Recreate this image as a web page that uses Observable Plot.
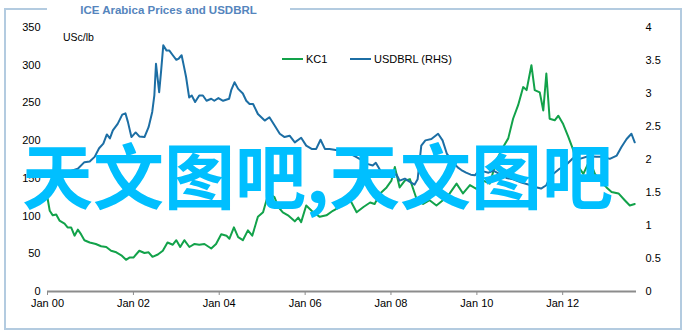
<!DOCTYPE html>
<html>
<head>
<meta charset="utf-8">
<script src="https://cdn.jsdelivr.net/npm/d3@7"></script>
<script src="https://cdn.jsdelivr.net/npm/@observablehq/plot@0.6"></script>
<style>
  html, body { margin: 0; padding: 0; background: #fff; }
  #wrap { position: relative; width: 683px; height: 333px; overflow: hidden; font-family: "Liberation Sans", Arial, sans-serif; }
  #frame { position: absolute; left: 4px; top: 8px; width: 674px; height: 318px; border: 2px solid #b3cbe0; box-sizing: content-box; }
  #title { position: absolute; left: 47px; top: 2px; width: 243px; height: 16px; background: #fff; text-align: center; font-weight: bold; font-size: 11.5px; line-height: 16px; color: #5585bd; }
  #unit { position: absolute; left: 63px; top: 31px; font-size: 10.5px; color: #000; }
  .leg { position: absolute; top: 52px; font-size: 11px; color: #000; line-height: 14px; }
  .sw { position: absolute; top: 58px; height: 2px; width: 21px; }
  #plot { position: absolute; left: 0; top: 0; }
  #wm { position: absolute; left: 22px; top: 137px; font-family: "Noto Sans CJK SC", sans-serif; font-weight: bold; font-size: 71px; line-height: 71px; color: #00bfff; white-space: nowrap; }
</style>
</head>
<body>
<div id="wrap">
  <div id="frame"></div>
  <div id="title">ICE Arabica Prices and USDBRL</div>
  <div id="plot"></div>
  <div id="unit">USc/lb</div>
  <div class="sw" style="left:282px;background:#12a24a"></div>
  <div class="leg" style="left:306px">KC1</div>
  <div class="sw" style="left:350px;background:#1c6ea4"></div>
  <div class="leg" style="left:374px">USDBRL (RHS)</div>
  <div id="wm">天文图吧,天文图吧</div>
</div>
<script>
const leftTicks = [0, 50, 100, 150, 200, 250, 300, 350];
const rightTicks = [0, 0.5, 1, 1.5, 2, 2.5, 3, 3.5, 4];
const xTickLabels = ["2000-01-01", "2002-01-01", "2004-01-01", "2006-01-01", "2008-01-01", "2010-01-01", "2012-01-01"];

const kcDates = ["2000-01-01","2000-01-20","2000-02-15","2000-03-15","2000-04-12","2000-05-25","2000-06-20","2000-07-20","2000-08-18","2000-09-15","2000-10-12","2000-11-10","2000-12-25","2001-02-15","2001-04-01","2001-05-15","2001-06-25","2001-08-08","2001-09-20","2001-10-30","2001-11-28","2002-01-01","2002-02-20","2002-04-05","2002-05-10","2002-06-12","2002-07-28","2002-09-08","2002-10-18","2002-12-02","2003-01-01","2003-02-03","2003-03-10","2003-04-22","2003-06-05","2003-07-15","2003-08-28","2003-10-25","2003-12-05","2004-01-18","2004-03-03","2004-03-28","2004-05-05","2004-06-10","2004-07-20","2004-09-01","2004-10-08","2004-11-25","2005-01-08","2005-02-06","2005-03-15","2005-04-15","2005-05-18","2005-06-25","2005-08-08","2005-10-05","2005-11-03","2005-11-28","2006-01-10","2006-02-25","2006-05-05","2006-07-01","2006-08-25","2006-10-20","2006-12-03","2007-01-20","2007-03-15","2007-05-12","2007-07-08","2007-08-15","2007-10-01","2007-11-25","2008-01-05","2008-02-03","2008-03-15","2008-04-28","2008-06-10","2008-08-01","2008-10-01","2008-11-25","2009-01-22","2009-03-18","2009-05-15","2009-07-12","2009-09-05","2009-11-03","2009-12-28","2010-02-25","2010-04-20","2010-06-18","2010-08-10","2010-09-25","2010-11-05","2010-12-18","2011-01-30","2011-02-28","2011-04-10","2011-05-08","2011-06-20","2011-07-20","2011-08-15","2011-09-12","2011-10-25","2011-11-25","2012-01-05","2012-02-18","2012-04-01","2012-04-28","2012-06-25","2012-08-18","2012-10-01","2012-11-15","2013-01-08","2013-02-20","2013-04-20","2013-06-12","2013-07-25","2013-09-05"];
const kcValues = [124,107,101,102,94,90,85,85,74,82,76,68,65,63,60,59,54,52,48,42,45,45,54,51,52,46,49,54,65,62,68,59,68,59,63,62,63,57,63,76,74,70,85,72,68,81,74,99,105,121,128,125,112,105,101,93,98,92,114,107,99,101,107,112,118,121,105,112,118,116,130,138,147,165,138,147,149,125,116,121,114,121,130,143,130,141,136,147,143,174,191,203,229,247,271,267,300,267,264,240,289,229,227,233,222,205,187,169,156,174,156,147,138,132,130,121,114,116];

const brlDates = ["2000-01-01","2000-03-15","2000-06-01","2000-09-15","2000-11-10","2000-12-25","2001-02-05","2001-03-15","2001-04-20","2001-05-20","2001-06-15","2001-07-10","2001-08-20","2001-09-28","2001-10-25","2001-11-15","2001-12-15","2002-01-20","2002-02-20","2002-04-05","2002-05-10","2002-06-10","2002-06-28","2002-07-12","2002-08-08","2002-08-25","2002-09-12","2002-10-10","2002-11-03","2002-12-02","2003-01-01","2003-01-22","2003-02-15","2003-03-08","2003-03-25","2003-04-20","2003-05-12","2003-06-10","2003-07-15","2003-08-15","2003-09-15","2003-10-25","2003-11-20","2003-12-25","2004-02-03","2004-03-25","2004-04-12","2004-05-10","2004-06-10","2004-07-20","2004-08-18","2004-09-15","2004-10-15","2004-11-25","2005-01-22","2005-03-03","2005-04-15","2005-05-30","2005-07-10","2005-08-22","2005-10-05","2005-11-28","2006-01-10","2006-02-25","2006-04-05","2006-05-12","2006-06-18","2006-07-28","2006-10-01","2006-12-15","2007-03-10","2007-05-08","2007-06-20","2007-07-30","2007-08-25","2007-10-10","2007-11-25","2008-01-05","2008-02-15","2008-03-15","2008-04-28","2008-06-10","2008-07-20","2008-08-15","2008-09-15","2008-10-20","2008-12-10","2009-02-05","2009-03-15","2009-04-20","2009-06-12","2009-07-22","2009-08-22","2009-10-01","2009-11-10","2009-12-15","2010-01-20","2010-02-25","2010-04-10","2010-05-20","2010-07-15","2010-09-10","2010-11-05","2011-01-15","2011-03-15","2011-05-20","2011-07-01","2011-08-15","2011-09-12","2011-10-12","2011-12-05","2012-02-01","2012-03-28","2012-05-25","2012-08-05","2012-10-15","2012-12-10","2013-02-05","2013-04-05","2013-05-15","2013-06-28","2013-08-08","2013-09-05"];
const brlValues = [1.80,1.75,1.80,1.86,1.96,1.97,2.04,2.17,2.24,2.38,2.32,2.44,2.54,2.68,2.70,2.57,2.34,2.41,2.35,2.34,2.49,2.72,2.97,3.45,3.02,3.35,3.73,3.65,3.65,3.58,3.51,3.53,3.58,3.40,3.25,2.94,2.97,2.87,2.97,2.97,2.89,2.92,2.89,2.93,2.89,2.92,3.05,3.17,3.07,3.00,2.89,2.84,2.84,2.69,2.59,2.64,2.52,2.39,2.34,2.36,2.26,2.33,2.21,2.16,2.16,2.30,2.16,2.16,2.14,2.12,2.04,1.98,1.93,1.91,1.95,1.81,1.81,1.73,1.78,1.68,1.71,1.66,1.62,1.70,2.21,2.29,2.31,2.39,2.29,2.09,1.96,1.88,1.84,1.80,1.77,1.76,1.84,1.82,1.80,1.83,1.78,1.72,1.70,1.65,1.62,1.58,1.56,1.61,1.72,1.78,1.86,1.92,2.02,2.01,2.05,2.04,2.04,2.01,2.06,2.19,2.31,2.39,2.26];

const leftMax = 350, rightMax = 4;
const ratio = leftMax / rightMax;

const kc = kcDates.map((d, i) => ({date: new Date(d), value: kcValues[i]}));
const brl = brlDates.map((d, i) => ({date: new Date(d), value: brlValues[i]}));

const chart = Plot.plot({
  width: 683,
  height: 333,
  marginLeft: 47,
  marginRight: 47,
  marginTop: 27,
  marginBottom: 42,
  style: {fontFamily: "Liberation Sans, Arial, sans-serif", fontSize: "11px", color: "#000", background: "transparent"},
  x: {type: "utc", domain: [new Date("2000-01-01"), new Date("2013-09-20")]},
  y: {domain: [0, leftMax]},
  marks: [
    Plot.axisY({ticks: leftTicks, tickSize: 0, tickPadding: 7, label: null}),
    Plot.axisY({anchor: "right", ticks: rightTicks.map(v => v * ratio), tickFormat: d => String(+(d / ratio).toFixed(2)), tickSize: 0, tickPadding: 9, label: null}),
    Plot.ruleY([0], {stroke: "#8c8c8c", strokeWidth: 2}),
    Plot.axisX({ticks: xTickLabels.map(d => new Date(d)), tickFormat: d3.utcFormat("%b %y"), tickSize: 4, tickPadding: 4, stroke: "#8c8c8c", label: null}),
    Plot.line(kc, {x: "date", y: "value", stroke: "#12a24a", strokeWidth: 2}),
    Plot.line(brl, {x: "date", y: d => d.value * ratio, stroke: "#1c6ea4", strokeWidth: 2})
  ]
});
document.getElementById("plot").appendChild(chart);
</script>
</body>
</html>
